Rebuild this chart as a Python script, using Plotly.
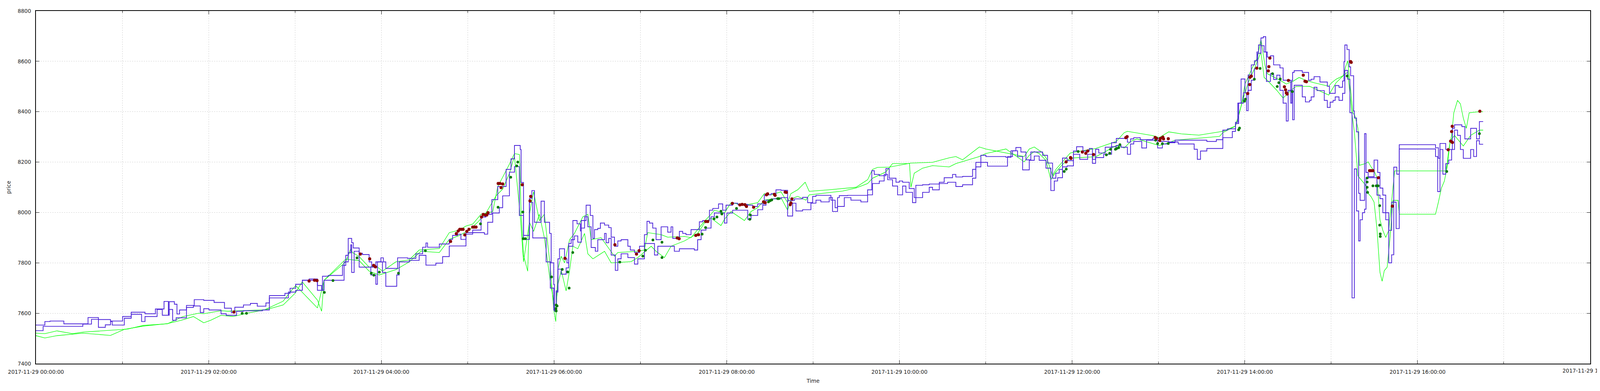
import pandas as pd
import plotly.graph_objects as go

# Time axis origin; every series below is (minutes after 00:00, price)
DAY = pd.Timestamp("2017-11-29 00:00:00")

# -- upper / lower blue quote lines ------------------------------------------
BLUE_HI = [
    (0.0, 7553), (6.2, 7567), (9.8, 7569), (19.4, 7558), (36.2, 7583), (43.4, 7575), (51.8, 7569),
    (60.2, 7587), (66.2, 7604), (75.8, 7598), (83.0, 7617), (89.0, 7647), (92.0, 7595), (92.6, 7646),
    (96.2, 7636), (98.0, 7597), (99.8, 7613), (104.6, 7631), (110.0, 7654), (116.6, 7651), (123.8, 7643),
    (131.0, 7620), (135.8, 7602), (138.2, 7624), (144.2, 7633), (149.0, 7639), (153.8, 7628), (159.8, 7641),
    (162.2, 7670), (173.0, 7679), (176.6, 7699), (180.5, 7715), (185.1, 7731), (189.8, 7736), (195.6, 7710),
    (198.5, 7691), (199.1, 7747), (203.1, 7750), (213.0, 7790), (215.3, 7830), (217.0, 7897), (219.4, 7880),
    (220.5, 7859), (224.6, 7838), (226.9, 7833), (231.5, 7804), (233.3, 7783), (236.2, 7804), (239.7, 7820),
    (241.4, 7804), (243.1, 7778), (251.3, 7820), (258.2, 7818), (264.0, 7836), (268.7, 7862), (271.0, 7879),
    (272.1, 7862), (280.3, 7875), (287.2, 7893), (289.5, 7909), (293.0, 7914), (295.3, 7893), (298.8, 7920),
    (303.5, 7930), (309.3, 7982), (312.7, 7993), (316.8, 8051), (320.9, 8103), (326.7, 8171), (330.1, 8213),
    (332.5, 8266), (336.5, 8250), (337.1, 8119), (338.8, 7909), (342.9, 8056), (344.6, 8087), (346.4, 7961),
    (351.0, 8045), (353.3, 7961), (356.9, 7917), (358.0, 7800), (359.8, 7714), (360.3, 7608), (361.5, 7689),
    (362.7, 7816), (363.8, 7856), (367.3, 7816), (369.0, 7800), (370.2, 7866), (373.1, 7968), (376.0, 7955),
    (378.3, 7927), (378.9, 7968), (382.3, 8029), (385.2, 7988), (387.0, 7897), (388.1, 7932), (390.4, 7937),
    (392.2, 7958), (395.1, 7950), (398.0, 7940), (399.7, 7902), (402.0, 7866), (404.3, 7887), (406.6, 7892),
    (411.3, 7866), (413.0, 7851), (415.9, 7841), (419.4, 7866), (422.8, 7912), (424.6, 7965), (426.3, 7958),
    (428.6, 7938), (430.9, 7892), (434.4, 7943), (439.0, 7922), (441.3, 7943), (442.5, 7897), (447.1, 7925),
    (449.4, 7917), (451.7, 7912), (455.2, 7932), (461.0, 7963), (463.3, 7968), (468.0, 8009), (470.3, 8016),
    (474.3, 8034), (477.2, 8009), (479.5, 8029), (484.1, 8037), (487.6, 8032), (494.6, 8029), (498.0, 8024),
    (501.5, 8034), (506.1, 8070), (510.8, 8075), (514.2, 8090), (517.7, 8088), (522.3, 8047), (527.0, 8054),
    (532.7, 8060), (536.2, 8039), (539.7, 8064), (542.0, 8068), (552.4, 8049), (555.3, 8019), (557.0, 8059),
    (558.2, 8067), (564.0, 8068), (577.9, 8090), (580.8, 8166), (582.5, 8151), (586.0, 8146), (590.6, 8174),
    (592.9, 8136), (597.6, 8120), (599.9, 8125), (602.2, 8120), (606.8, 8095), (610.3, 8059), (611.4, 8108),
    (616.1, 8110), (620.7, 8113), (627.7, 8120), (631.1, 8138), (636.9, 8151), (639.2, 8141), (643.9, 8143),
    (650.8, 8171), (653.1, 8199), (656.6, 8227), (660.1, 8222), (674.0, 8219), (677.5, 8245), (680.9, 8258),
    (684.4, 8240), (687.9, 8209), (691.3, 8240), (699.5, 8227), (702.9, 8196), (706.4, 8136), (708.7, 8156),
    (711.0, 8171), (713.3, 8216), (716.5, 8206), (720.9, 8244), (723.1, 8261), (727.5, 8244), (731.9, 8254),
    (734.1, 8211), (736.3, 8251), (738.5, 8236), (743.0, 8259), (747.4, 8277), (750.7, 8294), (758.4, 8279),
    (760.6, 8292), (762.8, 8297), (767.3, 8289), (776.1, 8294), (780.5, 8282), (787.1, 8277), (791.5, 8287),
    (813.6, 8282), (820.2, 8289), (824.7, 8327), (828.0, 8332), (833.5, 8358), (835.1, 8434), (837.4, 8530),
    (840.1, 8475), (842.3, 8546), (844.5, 8586), (846.7, 8602), (848.4, 8637), (849.5, 8665), (851.2, 8693),
    (852.8, 8698), (854.5, 8637), (855.6, 8617), (857.8, 8622), (860.0, 8586), (864.4, 8574), (866.6, 8525),
    (871.9, 8434), (872.7, 8525), (873.2, 8556), (874.3, 8563), (879.9, 8556), (884.3, 8525), (886.1, 8529),
    (888.1, 8539), (892.2, 8518), (897.3, 8501), (898.8, 8473), (902.8, 8504), (905.4, 8497), (907.9, 8522),
    (908.9, 8599), (909.5, 8665), (911.0, 8647), (912.5, 8578), (913.5, 8543), (915.6, 8403), (916.1, 8375),
    (917.6, 8320), (919.1, 8076), (920.1, 8048), (923.2, 8313), (924.2, 8159), (925.7, 8142), (929.8, 8208),
    (932.3, 8159), (933.9, 8097), (935.9, 8069), (937.9, 7999), (940.0, 7929), (942.0, 8041), (943.5, 8180),
    (945.6, 8152), (947.3, 8269), (972.5, 8257), (974.5, 8215), (975.6, 8274), (979.6, 8250), (984.2, 8334),
    (985.7, 8348), (990.8, 8341), (992.9, 8292), (996.9, 8334), (1001.0, 8292), (1003.0, 8361), (1005.6, 8361),
]

BLUE_LO = [
    (0.0, 7531), (5.0, 7548), (32.6, 7557), (38.6, 7576), (43.4, 7544), (48.2, 7554), (51.8, 7567),
    (53.0, 7553), (61.4, 7580), (66.2, 7596), (73.4, 7567), (75.8, 7587), (84.2, 7615), (87.8, 7592),
    (92.6, 7615), (95.0, 7572), (97.4, 7582), (104.6, 7623), (109.4, 7629), (114.2, 7603), (116.6, 7618),
    (120.2, 7613), (128.6, 7598), (132.2, 7592), (139.4, 7608), (144.2, 7610), (157.4, 7613), (162.2, 7661),
    (175.4, 7684), (180.5, 7691), (185.1, 7731), (195.6, 7691), (200.2, 7731), (214.1, 7804), (217.0, 7840),
    (218.8, 7872), (219.4, 7762), (221.1, 7846), (224.6, 7783), (232.7, 7752), (236.2, 7715), (237.3, 7804),
    (240.8, 7762), (243.1, 7707), (250.7, 7752), (252.4, 7804), (259.4, 7810), (266.3, 7830), (271.0, 7791),
    (277.9, 7799), (282.6, 7825), (287.2, 7867), (298.8, 7914), (303.5, 7920), (311.6, 7914), (313.9, 7961),
    (317.4, 7998), (322.0, 8019), (324.3, 8066), (329.0, 8160), (332.5, 8182), (335.9, 7988), (338.8, 7893),
    (342.9, 8040), (345.2, 7899), (354.5, 7804), (357.4, 7700), (359.8, 7613), (361.5, 7684), (362.7, 7775),
    (365.0, 7755), (368.4, 7780), (370.2, 7877), (371.9, 7892), (374.2, 7907), (376.5, 7882), (378.9, 7938),
    (381.2, 7983), (383.5, 7943), (385.8, 7861), (388.7, 7846), (390.4, 7892), (395.1, 7917), (396.2, 7880),
    (398.0, 7897), (399.7, 7831), (402.6, 7770), (404.3, 7816), (406.6, 7836), (411.3, 7821), (415.9, 7795),
    (418.2, 7816), (422.8, 7877), (429.8, 7831), (432.1, 7866), (443.6, 7846), (447.1, 7856), (457.5, 7851),
    (459.8, 7892), (462.2, 7930), (465.6, 7938), (469.1, 7983), (471.4, 7998), (478.4, 7958), (480.1, 7998),
    (484.1, 8009), (494.6, 7973), (496.9, 7988), (501.5, 8011), (505.0, 8029), (507.3, 8049), (510.8, 8054),
    (517.7, 8059), (522.3, 7986), (525.8, 8037), (528.1, 8006), (532.7, 8011), (538.5, 8037), (542.0, 8049),
    (545.4, 8042), (551.2, 8059), (553.5, 8004), (557.0, 8024), (561.7, 8059), (566.3, 8049), (573.2, 8042),
    (577.9, 8070), (581.3, 8115), (586.0, 8125), (589.4, 8151), (591.8, 8130), (595.2, 8105), (598.7, 8070),
    (602.2, 8105), (604.5, 8080), (609.1, 8039), (611.4, 8059), (616.1, 8080), (620.7, 8100), (623.0, 8090),
    (627.7, 8115), (633.5, 8120), (639.2, 8103), (643.9, 8110), (650.8, 8136), (653.1, 8181), (656.6, 8199),
    (661.2, 8184), (675.1, 8222), (678.6, 8245), (682.1, 8222), (685.6, 8169), (690.2, 8207), (693.7, 8224),
    (697.1, 8207), (701.8, 8176), (705.2, 8087), (707.6, 8125), (709.9, 8138), (713.3, 8181), (716.5, 8185),
    (720.9, 8231), (725.3, 8211), (730.8, 8231), (734.1, 8195), (736.3, 8218), (741.9, 8231), (747.4, 8261),
    (750.7, 8266), (754.0, 8259), (758.4, 8231), (760.6, 8272), (762.8, 8282), (768.4, 8256), (771.7, 8287),
    (779.4, 8256), (782.7, 8272), (787.1, 8280), (793.7, 8272), (804.8, 8251), (807.0, 8211), (809.2, 8244),
    (813.6, 8254), (824.7, 8297), (831.3, 8322), (833.5, 8353), (835.7, 8434), (839.0, 8475), (841.2, 8404),
    (842.3, 8485), (844.5, 8525), (846.7, 8571), (848.9, 8632), (851.2, 8662), (853.4, 8637), (855.0, 8520),
    (857.8, 8551), (860.0, 8528), (862.2, 8545), (864.4, 8485), (866.6, 8434), (868.8, 8363), (870.1, 8485),
    (873.2, 8368), (874.3, 8505), (879.9, 8459), (882.1, 8439), (885.0, 8445), (886.1, 8459), (888.1, 8497),
    (890.1, 8484), (895.2, 8445), (897.3, 8417), (899.3, 8438), (901.3, 8445), (902.8, 8459), (905.4, 8445),
    (907.9, 8473), (909.5, 8564), (911.5, 8529), (913.0, 8396), (914.5, 7661), (916.1, 8173), (917.6, 8006),
    (919.1, 7887), (920.1, 7971), (921.7, 7999), (923.2, 8013), (924.2, 8138), (931.8, 8069), (933.9, 8055),
    (935.9, 7999), (937.9, 7971), (940.0, 7800), (942.0, 7832), (943.5, 8041), (945.1, 7936), (947.3, 8252),
    (972.5, 8222), (974.0, 8083), (975.6, 8250), (977.6, 8152), (979.6, 8194), (981.7, 8208), (983.7, 8250),
    (985.7, 8327), (987.8, 8306), (989.8, 8250), (991.8, 8215), (996.9, 8250), (999.0, 8222), (1001.0, 8285),
    (1003.0, 8271), (1005.6, 8271),
]

# -- upper / lower green quote lines -----------------------------------------
GREEN_HI = [
    (0.0, 7521), (6.2, 7519), (14.6, 7530), (25.4, 7519), (32.6, 7525), (63.8, 7537), (74.6, 7552),
    (91.4, 7558), (102.2, 7587), (113.0, 7600), (116.6, 7598), (128.6, 7610), (133.4, 7608), (159.8, 7614),
    (171.8, 7633), (180.2, 7680), (185.0, 7725), (195.6, 7652), (198.5, 7608), (200.2, 7731), (215.3, 7804),
    (218.8, 7857), (219.9, 7841), (224.6, 7825), (231.5, 7783), (236.2, 7788), (240.8, 7767), (250.1, 7804),
    (259.4, 7812), (266.3, 7851), (280.3, 7857), (287.2, 7920), (294.2, 7930), (298.8, 7946), (303.5, 7954),
    (309.3, 7993), (317.4, 8003), (320.9, 8103), (324.3, 8140), (329.0, 8192), (332.5, 8234), (336.0, 8230),
    (337.1, 8003), (338.8, 7830), (341.7, 7767), (342.9, 7993), (345.8, 8082), (349.8, 7967), (353.3, 7993),
    (357.4, 7785), (359.8, 7613), (361.2, 7567), (362.7, 7775), (365.0, 7826), (367.3, 7800), (370.8, 7892),
    (374.2, 7917), (380.0, 7983), (383.5, 7993), (385.8, 7892), (392.7, 7900), (402.0, 7826), (404.3, 7841),
    (418.2, 7846), (422.8, 7851), (425.1, 7920), (434.4, 7912), (439.0, 7902), (450.6, 7905), (455.2, 7900),
    (459.8, 7932), (464.5, 7965), (469.1, 7993), (471.4, 8009), (478.4, 7998), (483.0, 8039), (492.3, 8029),
    (501.5, 8039), (506.1, 8075), (510.8, 8070), (517.7, 8082), (522.3, 8039), (524.6, 8075), (529.3, 8090),
    (534.5, 8120), (537.3, 8084), (551.2, 8090), (569.8, 8100), (577.9, 8130), (581.3, 8171), (584.8, 8179),
    (592.9, 8180), (608.0, 8196), (623.0, 8199), (634.6, 8217), (639.2, 8222), (643.9, 8209), (655.5, 8260),
    (660.1, 8252), (686.7, 8222), (690.2, 8252), (693.7, 8260), (699.5, 8237), (702.9, 8207), (706.4, 8146),
    (708.7, 8171), (713.3, 8201), (718.7, 8236), (723.1, 8241), (736.3, 8254), (750.7, 8282), (756.2, 8317),
    (758.4, 8322), (776.1, 8305), (780.5, 8297), (787.1, 8320), (795.9, 8312), (808.1, 8307), (824.7, 8322),
    (833.5, 8343), (835.7, 8383), (837.9, 8434), (840.1, 8510), (844.5, 8566), (848.9, 8617), (851.2, 8688),
    (853.9, 8586), (855.6, 8551), (864.4, 8525), (868.8, 8510), (873.2, 8520), (877.7, 8536), (882.1, 8525),
    (888.1, 8515), (898.3, 8501), (900.3, 8515), (903.4, 8529), (908.4, 8543), (910.0, 8578), (911.5, 8602),
    (915.1, 8396), (916.6, 8382), (918.6, 8334), (919.6, 8187), (923.7, 8194), (925.7, 8201), (927.8, 8180),
    (929.8, 8166), (931.8, 8138), (933.9, 7971), (935.9, 7929), (937.9, 7901), (940.0, 7929), (942.0, 8041),
    (944.1, 8165), (979.6, 8165), (980.6, 8194), (981.7, 8250), (983.7, 8306), (985.2, 8396), (987.8, 8445),
    (989.8, 8431), (991.8, 8375), (993.9, 8334), (995.9, 8396), (1003.0, 8400), (1005.6, 8400),
]

GREEN_LO = [
    (0.0, 7511), (6.2, 7502), (14.6, 7511), (32.6, 7521), (51.8, 7512), (61.4, 7536), (74.6, 7549),
    (91.4, 7559), (101.0, 7572), (109.4, 7587), (116.6, 7562), (121.4, 7572), (128.6, 7592), (137.0, 7587),
    (146.6, 7600), (158.6, 7613), (171.8, 7648), (176.6, 7684), (180.5, 7710), (195.6, 7621), (200.2, 7731),
    (215.3, 7815), (224.6, 7809), (231.5, 7767), (238.5, 7752), (250.1, 7773), (259.4, 7804), (267.5, 7846),
    (280.3, 7841), (287.2, 7893), (294.2, 7909), (301.1, 7930), (306.9, 7961), (312.7, 7998), (319.7, 8066),
    (324.3, 8093), (329.0, 8155), (332.5, 8224), (336.5, 7988), (338.8, 7804), (342.9, 7961), (345.8, 7925),
    (349.8, 7993), (353.3, 7899), (357.4, 7726), (361.0, 7608), (362.7, 7714), (365.0, 7770), (368.4, 7689),
    (370.8, 7770), (373.1, 7866), (376.5, 7856), (381.2, 7917), (383.5, 7836), (387.0, 7816), (395.1, 7846),
    (399.7, 7800), (413.6, 7805), (418.2, 7821), (427.5, 7866), (430.9, 7846), (436.7, 7821), (441.3, 7866),
    (445.9, 7877), (450.6, 7887), (459.8, 7917), (464.5, 7958), (469.1, 7978), (476.0, 7948), (478.4, 7973),
    (483.0, 8004), (492.3, 7968), (496.9, 8004), (501.5, 8019), (506.1, 8049), (517.7, 8059), (522.3, 8009),
    (524.6, 8054), (529.3, 8064), (535.0, 8049), (537.3, 8070), (560.5, 8085), (569.8, 8097), (577.9, 8115),
    (581.3, 8136), (590.6, 8161), (595.2, 8194), (607.0, 8194), (608.0, 8100), (610.3, 8156), (616.1, 8176),
    (623.0, 8186), (634.6, 8181), (639.2, 8194), (655.5, 8222), (660.1, 8234), (674.0, 8252), (686.7, 8201),
    (690.2, 8227), (693.7, 8242), (697.1, 8234), (701.8, 8207), (705.2, 8130), (708.7, 8161), (713.3, 8191),
    (718.7, 8216), (736.3, 8221), (742.9, 8241), (750.7, 8266), (756.2, 8256), (760.6, 8282), (765.0, 8292),
    (780.5, 8266), (787.1, 8277), (791.5, 8287), (822.4, 8302), (824.7, 8317), (833.5, 8343), (836.8, 8409),
    (839.0, 8454), (842.3, 8515), (846.7, 8571), (851.2, 8637), (853.4, 8536), (855.6, 8525), (862.2, 8485),
    (866.6, 8454), (871.0, 8480), (875.4, 8500), (885.0, 8501), (898.3, 8466), (903.4, 8515), (908.4, 8543),
    (911.5, 8557), (914.5, 8389), (916.1, 8320), (918.6, 8145), (923.7, 8110), (925.7, 8076), (927.8, 8062),
    (929.8, 8041), (931.8, 7936), (933.9, 7762), (935.4, 7727), (936.9, 7769), (938.9, 7783), (940.9, 7901),
    (943.0, 8048), (946.5, 8048), (947.3, 7993), (972.5, 7993), (974.5, 8041), (976.6, 8097), (978.6, 8124),
    (980.6, 8180), (982.7, 8285), (985.7, 8306), (991.8, 8264), (996.9, 8306), (1003.0, 8327), (1005.6, 8327),
]

# -- trade markers ------------------------------------------------------------
SELLS = [
    (137.6, 7605), (189.8, 7728), (193.6, 7731), (195.3, 7730), (225.4, 7835), (231.9, 7816), (234.7, 7790),
    (235.9, 7784), (288.1, 7885), (292.1, 7916), (293.4, 7926), (294.5, 7933), (295.7, 7933), (296.8, 7933),
    (298.0, 7911), (299.4, 7925), (300.9, 7933), (303.5, 7942), (304.6, 7942), (305.8, 7942), (309.6, 7982),
    (310.8, 7992), (312.2, 7990), (313.3, 7990), (314.1, 7999), (321.2, 8115), (322.4, 8115), (323.2, 8099),
    (324.3, 8113), (337.9, 8110), (343.3, 8046), (343.8, 8064), (367.6, 7818), (402.3, 7872), (417.3, 7835),
    (419.1, 7848), (445.6, 7899), (446.9, 7896), (458.5, 7909), (460.4, 7912), (465.4, 7964), (466.8, 7964),
    (483.9, 8036), (489.1, 8030), (490.7, 8032), (492.6, 8031), (493.7, 8024), (498.7, 8021), (505.6, 8042),
    (506.7, 8039), (507.6, 8070), (508.4, 8074), (513.1, 8072), (513.6, 8068), (520.6, 8081), (521.4, 8080),
    (524.1, 8031), (524.6, 8038), (525.3, 8054), (715.8, 8201), (718.9, 8218), (719.2, 8215), (727.1, 8240),
    (729.5, 8235), (730.8, 8244), (734.9, 8230), (757.3, 8297), (758.2, 8301), (777.7, 8298), (778.6, 8294),
    (780.9, 8286), (781.3, 8294), (783.0, 8299), (783.5, 8292), (786.8, 8293), (842.0, 8472), (843.4, 8508),
    (843.6, 8537), (844.5, 8541), (848.3, 8573), (856.3, 8562), (856.7, 8579), (857.4, 8613), (867.5, 8499),
    (868.3, 8487), (868.8, 8475), (869.4, 8470), (870.3, 8524), (880.6, 8545), (881.8, 8521), (882.8, 8519),
    (913.5, 8599), (913.9, 8596), (926.7, 8166), (927.8, 8166), (929.0, 8166), (932.8, 8138), (942.5, 8025),
    (981.3, 8249), (983.0, 8283), (983.7, 8321), (984.1, 8342), (984.2, 8278), (1003.3, 8402),
]

BUYS = [
    (143.3, 7600), (146.3, 7600), (200.4, 7683), (206.4, 7730), (223.1, 7820), (233.0, 7759), (234.8, 7751),
    (238.6, 7763), (251.9, 7759), (270.6, 7848), (308.9, 7955), (321.1, 8021), (329.9, 8140), (334.1, 8185),
    (334.8, 8200), (338.3, 8002), (338.6, 7896), (340.0, 7896), (358.3, 7744), (361.3, 7618), (361.5, 7633),
    (361.5, 7609), (362.1, 7629), (365.7, 7774), (369.5, 7764), (370.5, 7700), (373.0, 7841), (405.7, 7803),
    (421.7, 7827), (423.5, 7850), (428.7, 7891), (435.0, 7882), (435.0, 7821), (462.9, 7914), (465.3, 7940),
    (471.2, 7975), (473.2, 7982), (476.0, 8005), (476.6, 7994), (486.8, 8016), (496.0, 7973), (496.4, 7990),
    (509.0, 8042), (510.2, 8047), (511.3, 8050), (515.4, 8055), (516.2, 8055), (714.5, 8163), (715.9, 8172),
    (724.2, 8242), (743.8, 8229), (746.1, 8235), (746.7, 8251), (750.1, 8251), (750.9, 8254), (752.3, 8257),
    (753.2, 8269), (778.0, 8287), (779.4, 8274), (782.7, 8273), (786.8, 8274), (835.7, 8328), (836.3, 8335),
    (839.8, 8442), (840.4, 8450), (846.6, 8529), (850.6, 8572), (859.2, 8551), (862.5, 8500), (863.6, 8515),
    (864.6, 8530), (873.0, 8480), (911.1, 8542), (925.0, 8137), (925.0, 8121), (925.0, 8100), (925.3, 8080),
    (929.0, 8106), (931.3, 8106), (932.6, 8106), (933.7, 8027), (933.7, 7950), (934.1, 7915), (934.1, 7905),
    (980.3, 8163), (1003.0, 8313),
]

Y_TICKS = [7400, 7600, 7800, 8000, 8200, 8400, 8600, 8800]

FONT = "DejaVu Sans"
FSIZE = 13.5
BLUE = "#4a22d8"
GREEN = "#00ff00"
GRID = "#cfcfcf"
X_END = DAY + pd.Timedelta(hours=18)


def unpack(pairs):
    mins = [p[0] for p in pairs]
    vals = [p[1] for p in pairs]
    times = DAY + pd.to_timedelta(mins, unit="min")
    return times, vals


fig = go.Figure()

for serie in (GREEN_LO, GREEN_HI):
    x, y = unpack(serie)
    fig.add_trace(go.Scatter(x=x, y=y, mode="lines",
                             line=dict(color=GREEN, width=1.3), hoverinfo="skip"))

for serie in (BLUE_LO, BLUE_HI):
    x, y = unpack(serie)
    fig.add_trace(go.Scatter(x=x, y=y, mode="lines",
                             line=dict(color=BLUE, width=1.9, shape="hv"),
                             hoverinfo="skip"))

x, y = unpack(BUYS)
fig.add_trace(go.Scatter(x=x, y=y, mode="markers",
                         marker=dict(size=7, color="#0a7a0a",
                                     line=dict(width=0))))
x, y = unpack(SELLS)
fig.add_trace(go.Scatter(x=x, y=y, mode="markers",
                         marker=dict(size=8, color="#8b0000",
                                     line=dict(width=0))))

# last tick label sits on the right border and runs off the page, as in the source
fig.add_annotation(x=X_END, y=0, xref="x", yref="paper",
                   text=X_END.strftime("%Y-%m-%d %H:%M:%S"),
                   showarrow=False, xanchor="center", yanchor="top", yshift=-8,
                   font=dict(family=FONT, size=FSIZE, color="#222"))

axis_common = dict(
    showline=True, linecolor="black", linewidth=1.5, mirror="ticks",
    ticks="inside", ticklen=9, tickcolor="black", tickwidth=1,
    showgrid=True, gridcolor=GRID, griddash="dot", gridwidth=1,
    zeroline=False, tickfont=dict(family=FONT, size=FSIZE, color="#222"),
    ticklabelstandoff=8,
)

# size is left to the page (autosize) so the figure fills the browser window
fig.update_layout(
    autosize=True,
    margin=dict(l=72, r=17, t=12, b=53),
    plot_bgcolor="white", paper_bgcolor="white",
    showlegend=False,
    font=dict(family=FONT, size=FSIZE, color="#222"),
    xaxis=dict(
        type="date",
        range=[DAY, X_END],
        tick0=DAY, dtick=2 * 3600 * 1000,
        tickformat="%Y-%m-%d %H:%M:%S",
        minor=dict(dtick=3600 * 1000, ticks="inside", ticklen=5,
                   tickcolor="black", showgrid=True, gridcolor=GRID,
                   griddash="dot"),
        title=dict(text="Time", standoff=12,
                   font=dict(family=FONT, size=FSIZE, color="#222")),
        **axis_common,
    ),
    yaxis=dict(
        range=[7400, 8800],
        tickmode="array", tickvals=Y_TICKS,
        ticktext=[str(v) for v in Y_TICKS],
        title=dict(text="price", standoff=14,
                   font=dict(family=FONT, size=FSIZE, color="#222")),
        **axis_common,
    ),
)

fig.write_html("out.html", default_width="calc(100vw - 16px)",
               default_height="calc(100vh - 16px)")
